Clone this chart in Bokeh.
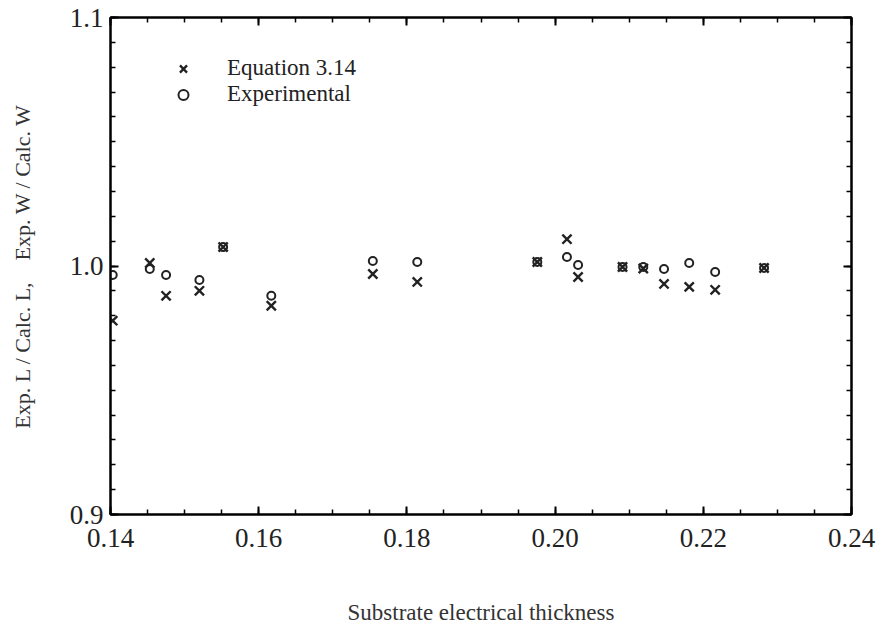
from bokeh.plotting import figure
from bokeh.models import Range1d, FixedTicker, LinearAxis, Legend, LegendItem
from bokeh.embed import file_html
from bokeh.resources import INLINE

# ---- data ----
thickness = [0.1403, 0.1453, 0.1475, 0.1520, 0.1552, 0.1617, 0.1754, 0.1814,
             0.1976, 0.2016, 0.2031, 0.2091, 0.2119, 0.2147, 0.2181, 0.2216, 0.2282]
eq_ratio = [0.978, 1.0012, 0.988, 0.990, 1.0076, 0.984, 0.9968, 0.9936,
            1.0016, 1.0108, 0.9956, 0.9996, 0.999, 0.9928, 0.9916, 0.9904, 0.9992]
exp_ratio = [0.9964, 0.9988, 0.9964, 0.9944, 1.0076, 0.988, 1.002, 1.0016,
             1.0016, 1.0036, 1.0004, 0.9996, 0.9996, 0.9988, 1.0012, 0.9976, 0.9992]

x_tick_values = [0.14, 0.16, 0.18, 0.20, 0.22, 0.24]
x_tick_labels = ["0.14", "0.16", "0.18", "0.20", "0.22", "0.24"]
y_tick_values = [0.9, 1.0, 1.1]
y_tick_labels = ["0.9", "1.0", "1.1"]
x_minor = [round(0.14 + 0.005 * i, 3) for i in range(21)]
y_minor = [round(0.9 + 0.01 * i, 2) for i in range(21)]

FONT = "Liberation Serif"

p = figure(width=877, height=627,
           x_range=Range1d(0.14, 0.24), y_range=Range1d(0.9, 1.1),
           output_backend="svg", toolbar_location=None,
           min_border_left=110, min_border_right=26,
           min_border_top=17, min_border_bottom=112)
p.grid.visible = False
p.outline_line_color = "black"
p.outline_line_width = 2
p.background_fill_color = "white"
p.border_fill_color = "white"

xt = FixedTicker(ticks=x_tick_values, minor_ticks=x_minor)
yt = FixedTicker(ticks=y_tick_values, minor_ticks=y_minor)

def style_axis(ax, show_labels):
    ax.axis_line_color = "black"
    ax.axis_line_width = 2
    ax.major_tick_in = 8
    ax.major_tick_out = 0
    ax.minor_tick_in = 5
    ax.minor_tick_out = 0
    ax.major_tick_line_width = 2
    ax.minor_tick_line_width = 1.5
    ax.major_tick_line_color = "black"
    ax.minor_tick_line_color = "black"
    ax.major_label_text_font = FONT
    ax.major_label_text_color = "#222222"
    if not show_labels:
        ax.major_label_text_color = None
        ax.major_label_text_font_size = "1px"
        ax.major_label_standoff = 0

xa = p.xaxis[0]
xa.ticker = xt
xa.major_label_overrides = dict(zip(x_tick_values, x_tick_labels))
style_axis(xa, True)
xa.major_label_text_font_size = "27px"
xa.major_label_standoff = 14
xa.axis_label = "Substrate electrical thickness"
xa.axis_label_text_font = FONT
xa.axis_label_text_font_size = "23px"
xa.axis_label_text_font_style = "normal"
xa.axis_label_text_color = "#333333"
xa.axis_label_standoff = 50

ya = p.yaxis[0]
ya.ticker = yt
ya.major_label_overrides = dict(zip(y_tick_values, y_tick_labels))
style_axis(ya, True)
ya.major_label_text_font_size = "27px"
ya.major_label_standoff = 7
ya.axis_label = "Exp. L / Calc. L,\u00a0\u00a0\u00a0\u00a0Exp. W / Calc. W"
ya.axis_label_text_font = FONT
ya.axis_label_text_font_size = "22px"
ya.axis_label_text_font_style = "normal"
ya.axis_label_text_color = "#333333"
ya.axis_label_standoff = 32

top = LinearAxis(ticker=xt)
style_axis(top, False)
p.add_layout(top, "above")
right = LinearAxis(ticker=yt)
style_axis(right, False)
p.add_layout(right, "right")

r_eq = p.scatter(thickness, eq_ratio, marker="x", size=13, line_width=2.4,
                 line_color="#222222")
r_exp = p.scatter(thickness, exp_ratio, marker="circle", size=8, line_width=2,
                  line_color="#222222", fill_color=None)

legend = Legend(items=[LegendItem(label="Equation 3.14", renderers=[r_eq]),
                       LegendItem(label="Experimental", renderers=[r_exp])],
                location=(60, 407), orientation="vertical")
legend.border_line_color = None
legend.background_fill_alpha = 0
legend.label_text_font = FONT
legend.label_text_font_size = "23px"
legend.label_text_color = "#222222"
legend.glyph_width = 26
legend.glyph_height = 25
legend.label_height = 25
legend.label_standoff = 31
legend.spacing = 0
legend.padding = 0
legend.margin = 0
p.add_layout(legend, "center")

open("out.html", "w").write(file_html(p, INLINE))
